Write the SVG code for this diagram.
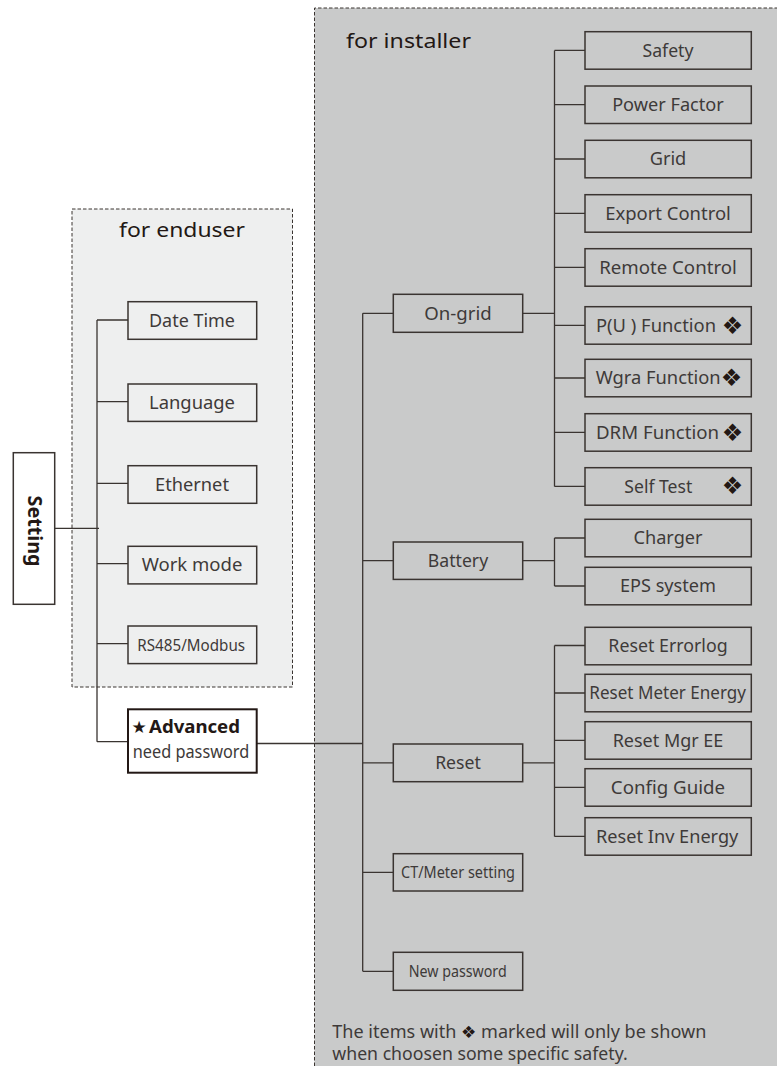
<svg xmlns="http://www.w3.org/2000/svg" width="777" height="1066" viewBox="0 0 777 1066">
<style>
.bx{fill:none;stroke:#3a3431;stroke-width:1.5}
.ln{fill:none;stroke:#3a3431;stroke-width:1.3}
.t{font-family:"Noto Sans","Liberation Sans",sans-serif;font-size:18px;fill:#3e3a39;text-anchor:middle}
.ts{font-family:"Noto Sans","Liberation Sans",sans-serif;font-size:16px;fill:#3e3a39;text-anchor:middle}
.tl{font-family:"Noto Sans","Liberation Sans",sans-serif;font-size:18px;fill:#3e3a39}
.hd{font-family:"Noto Sans","Liberation Sans",sans-serif;font-size:20px;fill:#231815}
.dm{font-family:"DejaVu Sans",sans-serif;font-size:24px;fill:#231815;text-anchor:middle}
.dash{stroke:#3a3431;stroke-width:1;stroke-dasharray:3.5 2}
</style>
<rect width="777" height="1066" fill="#ffffff"/>
<g id="installer-area">
<rect x="314.5" y="8" width="470" height="1070" fill="#c9caca"/>
<path class="dash" fill="none" d="M314.5 1066 V8 H777"/>
<text class="hd" x="346" y="48" textLength="125" lengthAdjust="spacingAndGlyphs">for installer</text>
</g>
<g id="enduser-area">
<rect class="dash" x="72" y="209" width="220.5" height="478" fill="#eeefef"/>
<text class="hd" x="119" y="236.5" textLength="126" lengthAdjust="spacingAndGlyphs">for enduser</text>
</g>
<g id="connectors">
<path class="ln" d="M54.7 528.3 H99"/>
<path class="ln" d="M97 320 V741.7 M97 320 H128 M97 401.7 H128 M97 483.3 H128 M97 563.7 H128 M97 643.7 H128 M97 741.7 H128"/>
<path class="ln" d="M256.7 743.5 H362.7"/>
<path class="ln" d="M362.7 313.3 V971.3 M362.7 313.3 H393.3 M362.7 560.7 H393.3 M362.7 762.8 H393.3 M362.7 872.3 H393.3 M362.7 971.3 H393.3"/>
<path class="ln" d="M522.7 313.3 H554.5 M554.5 50.4 V486.4 M554.5 50.4 H585 M554.5 104.7 H585 M554.5 159 H585 M554.5 213.4 H585 M554.5 267.4 H585 M554.5 325.4 H585 M554.5 378 H585 M554.5 432.4 H585 M554.5 486.4 H585"/>
<path class="ln" d="M522.7 560.7 H554.5 M554.5 538 V586 M554.5 538 H585 M554.5 586 H585"/>
<path class="ln" d="M522.7 762.8 H554.5 M554.5 645.5 V836.4 M554.5 645.5 H585 M554.5 693 H585 M554.5 740.4 H585 M554.5 787.4 H585 M554.5 836.4 H585"/>
</g>
<g id="setting">
<rect class="bx" x="13.3" y="452.7" width="41.4" height="151.6" style="fill:#ffffff"/>
<text transform="translate(34,531) rotate(90)" x="0" y="6.5" font-family="Noto Sans, Liberation Sans, sans-serif" font-size="19" font-weight="bold" fill="#231815" text-anchor="middle" textLength="71" lengthAdjust="spacingAndGlyphs">Setting</text>
</g>
<g id="date-time"><rect class="bx" x="128" y="301.7" width="128.7" height="37.6"/><text class="t" x="192" y="326.8" textLength="86" lengthAdjust="spacingAndGlyphs">Date Time</text></g>
<g id="language"><rect class="bx" x="128" y="384" width="128.7" height="37.4"/><text class="t" x="192" y="409" textLength="86" lengthAdjust="spacingAndGlyphs">Language</text></g>
<g id="ethernet"><rect class="bx" x="128" y="465.7" width="128.7" height="37.6"/><text class="t" x="192" y="490.8" textLength="74" lengthAdjust="spacingAndGlyphs">Ethernet</text></g>
<g id="work-mode"><rect class="bx" x="128" y="546.3" width="128.7" height="37.6"/><text class="t" x="192" y="571.4" textLength="100.7" lengthAdjust="spacingAndGlyphs">Work mode</text></g>
<g id="rs485"><rect class="bx" x="128" y="626" width="128.7" height="37.6"/><text class="ts" x="191.2" y="650.6" textLength="107.7" lengthAdjust="spacingAndGlyphs">RS485/Modbus</text></g>
<g id="advanced">
<rect x="128" y="709.3" width="128.7" height="63.4" fill="#ffffff" stroke="#231815" stroke-width="2"/>
<text x="131.5" y="733.3" font-family="DejaVu Sans, sans-serif" font-size="17" fill="#231815">★</text>
<text x="149" y="733.3" font-family="Noto Sans, Liberation Sans, sans-serif" font-size="18" font-weight="bold" fill="#231815" textLength="91" lengthAdjust="spacingAndGlyphs">Advanced</text>
<text x="132.7" y="758.3" class="tl" textLength="116.6" lengthAdjust="spacingAndGlyphs">need password</text>
</g>
<g id="on-grid"><rect class="bx" x="393.3" y="294.3" width="129.4" height="38"/><text class="t" x="458" y="319.6" textLength="67.4" lengthAdjust="spacingAndGlyphs">On-grid</text></g>
<g id="battery"><rect class="bx" x="393.3" y="542" width="129.4" height="37.4"/><text class="t" x="458" y="567" textLength="60.3" lengthAdjust="spacingAndGlyphs">Battery</text></g>
<g id="reset"><rect class="bx" x="393.3" y="744" width="129.4" height="37.7"/><text class="t" x="458" y="769.1" textLength="45.7" lengthAdjust="spacingAndGlyphs">Reset</text></g>
<g id="ct-meter"><rect class="bx" x="393.3" y="853.7" width="129.4" height="37.3"/><text class="ts" x="458" y="878" textLength="114" lengthAdjust="spacingAndGlyphs">CT/Meter setting</text></g>
<g id="new-password"><rect class="bx" x="393.3" y="952.3" width="129.4" height="38"/><text class="ts" x="457.7" y="977" textLength="98" lengthAdjust="spacingAndGlyphs">New password</text></g>
<g id="safety"><rect class="bx" x="585" y="31.7" width="166.3" height="37.5"/><text class="t" x="668" y="56.8" textLength="51" lengthAdjust="spacingAndGlyphs">Safety</text></g>
<g id="power-factor"><rect class="bx" x="585" y="86" width="166.3" height="37.5"/><text class="t" x="668" y="111.1" textLength="111.7" lengthAdjust="spacingAndGlyphs">Power Factor</text></g>
<g id="grid"><rect class="bx" x="585" y="140.3" width="166.3" height="37.5"/><text class="t" x="668" y="165.4" textLength="36.7" lengthAdjust="spacingAndGlyphs">Grid</text></g>
<g id="export-control"><rect class="bx" x="585" y="194.7" width="166.3" height="37.5"/><text class="t" x="668" y="219.8" textLength="125.7" lengthAdjust="spacingAndGlyphs">Export Control</text></g>
<g id="remote-control"><rect class="bx" x="585" y="248.7" width="166.3" height="37.5"/><text class="t" x="668" y="273.8" textLength="137.7" lengthAdjust="spacingAndGlyphs">Remote Control</text></g>
<g id="pu-function"><rect class="bx" x="585" y="306.7" width="166.3" height="37.5"/><text class="tl" x="596" y="331.8" textLength="120" lengthAdjust="spacingAndGlyphs">P(U ) Function</text><text class="dm" x="732.5" y="333.5">❖</text></g>
<g id="wgra-function"><rect class="bx" x="585" y="359.3" width="166.3" height="37.5"/><text class="tl" x="595.7" y="384.4" textLength="125" lengthAdjust="spacingAndGlyphs">Wgra Function</text><text class="dm" x="731.5" y="386.1">❖</text></g>
<g id="drm-function"><rect class="bx" x="585" y="413.7" width="166.3" height="37.5"/><text class="tl" x="596" y="438.8" textLength="123" lengthAdjust="spacingAndGlyphs">DRM Function</text><text class="dm" x="732.5" y="440.5">❖</text></g>
<g id="self-test"><rect class="bx" x="585" y="467.7" width="166.3" height="37.5"/><text class="tl" x="624.3" y="492.8" textLength="68" lengthAdjust="spacingAndGlyphs">Self Test</text><text class="dm" x="732.5" y="493.5">❖</text></g>
<g id="charger"><rect class="bx" x="585" y="519.3" width="166.3" height="37.5"/><text class="t" x="668" y="544.4" textLength="69" lengthAdjust="spacingAndGlyphs">Charger</text></g>
<g id="eps-system"><rect class="bx" x="585" y="567.3" width="166.3" height="37.5"/><text class="t" x="668" y="592.4" textLength="96" lengthAdjust="spacingAndGlyphs">EPS system</text></g>
<g id="reset-errorlog"><rect class="bx" x="585" y="627.3" width="166.3" height="37.5"/><text class="t" x="668" y="652.4" textLength="119.3" lengthAdjust="spacingAndGlyphs">Reset Errorlog</text></g>
<g id="reset-meter-energy"><rect class="bx" x="585" y="674.3" width="166.3" height="37.5"/><text class="t" x="667.7" y="699.4" textLength="156.7" lengthAdjust="spacingAndGlyphs">Reset Meter Energy</text></g>
<g id="reset-mgr-ee"><rect class="bx" x="585" y="721.7" width="166.3" height="37.5"/><text class="t" x="668" y="746.8" textLength="110.7" lengthAdjust="spacingAndGlyphs">Reset Mgr EE</text></g>
<g id="config-guide"><rect class="bx" x="585" y="768.7" width="166.3" height="37.5"/><text class="t" x="668" y="793.8" textLength="114.3" lengthAdjust="spacingAndGlyphs">Config Guide</text></g>
<g id="reset-inv-energy"><rect class="bx" x="585" y="817.7" width="166.3" height="37.5"/><text class="t" x="667.2" y="842.8" textLength="142.3" lengthAdjust="spacingAndGlyphs">Reset Inv Energy</text></g>
<g id="note">
<text class="tl" x="332.3" y="1037.5" textLength="374" lengthAdjust="spacingAndGlyphs">The items with <tspan font-family="DejaVu Sans, sans-serif" font-size="17" fill="#231815">❖</tspan> marked will only be shown</text>
<text class="tl" x="332.3" y="1060" textLength="295.4" lengthAdjust="spacingAndGlyphs">when choosen some specific safety.</text>
</g>
</svg>
